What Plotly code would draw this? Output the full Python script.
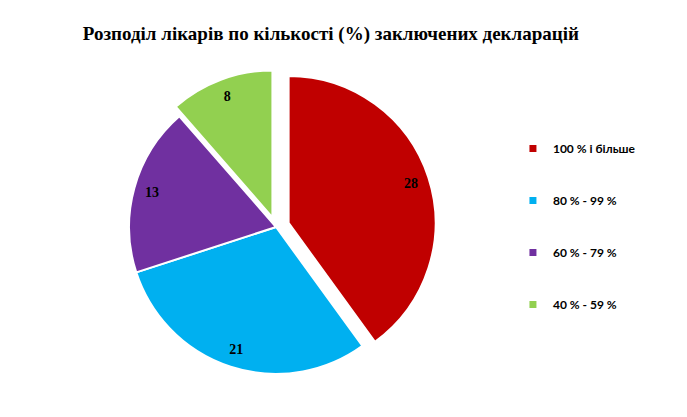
import plotly.graph_objects as go

# ---- data ----
labels = ["100 % і більше", "80 % - 99 %", "60 % - 79 %", "40 % - 59 %"]
values = [28, 21, 13, 8]
colors = ["#C00000", "#00B0F0", "#7030A0", "#92D050"]
pulls = [0.09, 0, 0, 0.07]
title_text = "Розподіл лікарів по кількості (%) заключених декларацій"

W, H = 687, 417
dom_x = [0.1570, 0.6233]
dom_y = [0.0907, 0.8590]

serif = "Liberation Serif, Times New Roman, serif"

fig = go.Figure()

# main pie (no text)
fig.add_trace(go.Pie(
    labels=labels, values=values, sort=False, direction="clockwise", rotation=0,
    marker=dict(colors=colors, line=dict(color="white", width=2)),
    pull=pulls, textinfo="none", showlegend=False,
    domain=dict(x=dom_x, y=dom_y), hoverinfo="label+value",
))

# transparent ring carrying the value labels near the rim
fig.add_trace(go.Pie(
    labels=labels, values=values, sort=False, direction="clockwise", rotation=0,
    hole=0.75,
    marker=dict(colors=["rgba(0,0,0,0)"] * len(values), line=dict(width=0)),
    pull=pulls, textinfo="value", textposition="inside",
    insidetextorientation="horizontal",
    textfont=dict(family=serif, size=14, color="black", weight="bold"),
    showlegend=False, hoverinfo="skip",
    domain=dict(x=dom_x, y=dom_y),
))

# legend entries
for i, (lab, col) in enumerate(zip(labels, colors)):
    fig.add_trace(go.Scatter(
        x=[None], y=[None], mode="markers", name=lab,
        marker=dict(symbol="square", size=7, color=col),
        legendgroup=f"g{i}", showlegend=True,
    ))

fig.update_layout(
    width=W, height=H,
    margin=dict(l=0, r=0, t=0, b=0),
    paper_bgcolor="white", plot_bgcolor="white",
    title=dict(text=title_text, x=0.47, xanchor="center", y=1 - 25 / H, yanchor="middle",
               font=dict(family=serif, size=19, color="black", weight="bold")),
    xaxis=dict(visible=False), yaxis=dict(visible=False),
    legend=dict(x=0.735, xanchor="left", y=1 - 126 / H, yanchor="top",
                tracegroupgap=33, itemwidth=30,
                font=dict(family="Lato", size=12, color="black", weight="bold"),
                bgcolor="rgba(0,0,0,0)"),
)

fig.write_html("out.html")
